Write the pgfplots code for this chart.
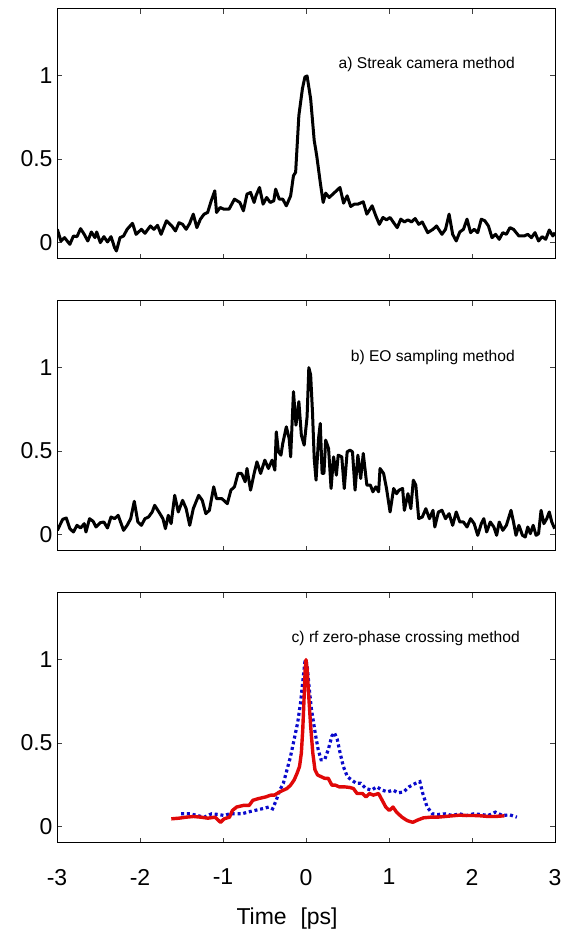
\documentclass[border=0pt]{standalone}
\usepackage{fontspec}
\setmainfont{Liberation Sans}
\usepackage{pgfplots}
\pgfplotsset{compat=1.18}
\definecolor{rfred}{HTML}{E00808}
\definecolor{rfblue}{HTML}{0A0ACC}

\pgfplotsset{
  panel/.style={
    scale only axis, width=249pt, height=125pt,
    xmin=-3, xmax=3, ymin=-0.1, ymax=1.4,
    xtick={-3,-2,-1,0,1,2,3}, ytick={0,0.5,1},
    yticklabels={0,0.5,1},
    tick align=inside, major tick length=2.5pt,
    tick style={black!75, line width=0.4pt},
    axis line style={line width=0.5pt},
    tick label style={font=\fontsize{11.5}{13}\selectfont},
    yticklabel style={xshift=1.3pt},
  },
  trace/.style={black, line width=1.5pt, line join=round},
}

\begin{document}
\begin{tikzpicture}

% a) streak camera
\begin{axis}[panel, at={(0pt,292pt)}, anchor=south west, xticklabels={}]
\addplot[trace] coordinates {
(-2.996,0.078) (-2.953,0.008) (-2.909,0.028) (-2.845,-0.012) (-2.802,0.038) (-2.759,0.034)
(-2.716,0.082) (-2.672,0.048) (-2.629,0.008) (-2.586,0.062) (-2.543,0.028) (-2.522,0.062)
(-2.478,-0.002) (-2.435,0.034) (-2.392,0.002) (-2.349,0.034) (-2.306,-0.032) (-2.284,-0.052)
(-2.241,0.028) (-2.198,0.038) (-2.155,0.078) (-2.091,0.114) (-2.047,0.048) (-1.983,0.078)
(-1.940,0.054) (-1.875,0.098) (-1.832,0.078) (-1.789,0.102) (-1.746,0.048) (-1.681,0.129)
(-1.616,0.098) (-1.573,0.068) (-1.530,0.118) (-1.487,0.108) (-1.444,0.078) (-1.401,0.114)
(-1.358,0.169) (-1.315,0.088) (-1.272,0.139) (-1.228,0.169) (-1.185,0.179) (-1.142,0.249)
(-1.099,0.309) (-1.078,0.179) (-1.034,0.209) (-0.991,0.199) (-0.927,0.199) (-0.862,0.259)
(-0.797,0.239) (-0.754,0.189) (-0.711,0.289) (-0.668,0.299) (-0.625,0.239) (-0.603,0.279)
(-0.560,0.329) (-0.517,0.229) (-0.474,0.269) (-0.431,0.239) (-0.388,0.249) (-0.366,0.319)
(-0.323,0.259) (-0.280,0.259) (-0.237,0.219) (-0.185,0.279) (-0.151,0.400) (-0.125,0.420)
(-0.086,0.761) (-0.043,0.922) (-0.013,0.992) (0.013,0.998) (0.056,0.861) (0.099,0.610)
(0.129,0.520) (0.172,0.359) (0.207,0.239) (0.237,0.295) (0.280,0.269) (0.323,0.289)
(0.409,0.329) (0.453,0.235) (0.496,0.279) (0.539,0.215) (0.582,0.229) (0.625,0.229)
(0.690,0.243) (0.733,0.169) (0.797,0.219) (0.841,0.159) (0.884,0.108) (0.927,0.149)
(0.970,0.135) (1.013,0.149) (1.056,0.118) (1.099,0.088) (1.142,0.139) (1.185,0.122)
(1.228,0.135) (1.272,0.122) (1.315,0.143) (1.358,0.108) (1.401,0.122) (1.466,0.058)
(1.530,0.078) (1.573,0.098) (1.638,0.048) (1.681,0.078) (1.724,0.169) (1.767,0.048)
(1.810,0.008) (1.853,0.062) (1.897,0.078) (1.940,0.139) (1.983,0.058) (2.026,0.078)
(2.069,0.058) (2.112,0.139) (2.155,0.129) (2.198,0.098) (2.241,0.028) (2.284,0.048)
(2.328,0.018) (2.371,0.058) (2.414,0.048) (2.457,0.088) (2.500,0.078) (2.565,0.038)
(2.629,0.038) (2.672,0.048) (2.716,0.028) (2.759,0.058) (2.802,0.008) (2.845,0.034)
(2.888,0.018) (2.931,0.074) (2.974,0.038) (3.000,0.058)
};
\node[anchor=east, font=\fontsize{7.8}{10}\selectfont] at (axis cs:2.6,1.07) {a) Streak camera method};
\end{axis}

% b) EO sampling
\begin{axis}[panel, at={(0pt,146pt)}, anchor=south west, xticklabels={}]
\addplot[trace] coordinates {
(-2.996,0.024) (-2.931,0.090) (-2.888,0.098) (-2.845,0.034) (-2.802,0.014) (-2.759,0.054)
(-2.716,0.038) (-2.672,0.064) (-2.651,0.014) (-2.608,0.094) (-2.565,0.078) (-2.530,0.044)
(-2.478,0.070) (-2.435,0.074) (-2.392,0.038) (-2.349,0.104) (-2.306,0.094) (-2.263,0.114)
(-2.198,0.024) (-2.155,0.054) (-2.112,0.094) (-2.069,0.198) (-2.026,0.074) (-1.983,0.054)
(-1.940,0.094) (-1.897,0.104) (-1.853,0.134) (-1.823,0.174) (-1.767,0.130) (-1.724,0.094)
(-1.694,0.034) (-1.659,0.114) (-1.625,0.064) (-1.582,0.234) (-1.539,0.134) (-1.487,0.204)
(-1.444,0.154) (-1.401,0.054) (-1.358,0.154) (-1.293,0.234) (-1.250,0.204) (-1.207,0.124)
(-1.164,0.144) (-1.112,0.285) (-1.078,0.214) (-1.013,0.214) (-0.948,0.184) (-0.905,0.265)
(-0.862,0.285) (-0.819,0.365) (-0.776,0.365) (-0.733,0.315) (-0.711,0.395) (-0.668,0.265)
(-0.625,0.365) (-0.591,0.435) (-0.547,0.365) (-0.496,0.445) (-0.453,0.395) (-0.409,0.445)
(-0.375,0.385) (-0.358,0.615) (-0.332,0.495) (-0.302,0.475) (-0.280,0.545) (-0.237,0.645)
(-0.203,0.575) (-0.185,0.465) (-0.151,0.856) (-0.121,0.655) (-0.086,0.796) (-0.056,0.595)
(-0.022,0.535) (0.013,0.705) (0.034,1.000) (0.056,0.956) (0.078,0.735) (0.099,0.455)
(0.121,0.325) (0.151,0.575) (0.172,0.665) (0.194,0.365) (0.216,0.365) (0.237,0.565)
(0.272,0.515) (0.302,0.275) (0.332,0.465) (0.366,0.355) (0.388,0.475) (0.431,0.465)
(0.461,0.275) (0.496,0.495) (0.530,0.505) (0.560,0.495) (0.591,0.265) (0.625,0.475)
(0.659,0.335) (0.690,0.485) (0.733,0.295) (0.776,0.295) (0.806,0.255) (0.841,0.285)
(0.875,0.255) (0.892,0.395) (0.935,0.365) (0.970,0.275) (1.013,0.134) (1.056,0.275)
(1.091,0.244) (1.121,0.265) (1.164,0.275) (1.185,0.144) (1.228,0.244) (1.263,0.154)
(1.293,0.325) (1.323,0.295) (1.358,0.094) (1.401,0.104) (1.444,0.154) (1.487,0.094)
(1.530,0.144) (1.552,0.044) (1.595,0.134) (1.638,0.144) (1.681,0.094) (1.724,0.124)
(1.767,0.054) (1.810,0.134) (1.853,0.074) (1.897,0.074) (1.940,0.044) (1.983,0.094)
(2.026,0.064) (2.069,-0.006) (2.112,0.064) (2.142,0.094) (2.177,0.014) (2.220,0.074)
(2.263,0.044) (2.297,-0.006) (2.328,0.074) (2.371,0.024) (2.414,0.054) (2.470,0.144)
(2.500,0.074) (2.530,-0.006) (2.565,0.054) (2.608,-0.006) (2.642,-0.016) (2.672,0.044)
(2.703,0.004) (2.737,0.054) (2.772,-0.006) (2.802,0.004) (2.832,0.144) (2.866,0.064)
(2.901,0.094) (2.931,0.134) (2.961,0.074) (2.996,0.034)
};
\node[anchor=east, font=\fontsize{7.8}{10}\selectfont] at (axis cs:2.6,1.06) {b) EO sampling method};
\end{axis}

% c) rf zero-phase crossing
\begin{axis}[panel, at={(0pt,0pt)}, anchor=south west,
  xticklabels={-3,-2,-1,0,1,2,3},
  xticklabel style={yshift=-9.5pt},
  xlabel={Time\hspace{0.6em}[ps]},
  xlabel style={font=\fontsize{11.5}{13}\selectfont, at={(axis description cs:0.462,0)}, anchor=center, yshift=-38pt},
]
\addplot[rfblue, line width=1.6pt, dash pattern=on 1.5pt off 1.4pt] coordinates {
(-1.506,0.075) (-1.398,0.075) (-1.312,0.065) (-1.225,0.055) (-1.139,0.075) (-1.052,0.071)
(-0.987,0.065) (-0.922,0.075) (-0.835,0.075) (-0.771,0.075) (-0.706,0.085) (-0.619,0.095)
(-0.532,0.105) (-0.446,0.116) (-0.403,0.105) (-0.359,0.156) (-0.316,0.217) (-0.273,0.258)
(-0.229,0.339) (-0.186,0.420) (-0.143,0.521) (-0.100,0.623) (-0.065,0.744) (-0.035,0.886)
(-0.013,0.988) (0.000,1.000) (0.017,0.947) (0.039,0.826) (0.065,0.704) (0.091,0.623)
(0.117,0.542) (0.147,0.460) (0.182,0.400) (0.225,0.400) (0.268,0.460) (0.312,0.542)
(0.342,0.562) (0.377,0.521) (0.411,0.440) (0.450,0.359) (0.498,0.298) (0.550,0.278)
(0.606,0.258) (0.658,0.258) (0.723,0.227) (0.788,0.217) (0.853,0.237) (0.918,0.217)
(0.983,0.207) (1.048,0.217) (1.113,0.201) (1.177,0.207) (1.242,0.237) (1.320,0.258)
(1.372,0.268) (1.407,0.197) (1.459,0.116) (1.524,0.075) (1.589,0.071) (1.675,0.075)
(1.762,0.065) (1.848,0.075) (1.935,0.065) (2.022,0.075) (2.108,0.071) (2.195,0.065)
(2.281,0.085) (2.368,0.065) (2.455,0.069) (2.541,0.055)
};
\addplot[rfred, line width=1.7pt, line join=round] coordinates {
(-1.623,0.045) (-1.528,0.049) (-1.442,0.055) (-1.355,0.059) (-1.268,0.055) (-1.182,0.049)
(-1.095,0.055) (-1.030,0.024) (-0.987,0.045) (-0.922,0.055) (-0.887,0.095) (-0.835,0.116)
(-0.749,0.126) (-0.684,0.126) (-0.641,0.156) (-0.576,0.166) (-0.489,0.176) (-0.424,0.187)
(-0.381,0.187) (-0.316,0.207) (-0.273,0.217) (-0.229,0.227) (-0.186,0.247) (-0.143,0.278)
(-0.108,0.318) (-0.078,0.359) (-0.056,0.440) (-0.039,0.582) (-0.022,0.785) (-0.009,0.947)
(0.000,1.000) (0.013,0.947) (0.030,0.805) (0.056,0.602) (0.082,0.440) (0.108,0.339)
(0.139,0.308) (0.182,0.298) (0.225,0.288) (0.268,0.288) (0.312,0.247) (0.355,0.247)
(0.398,0.237) (0.463,0.237) (0.528,0.233) (0.571,0.227) (0.615,0.197) (0.680,0.197)
(0.723,0.176) (0.766,0.197) (0.810,0.187) (0.874,0.197) (0.918,0.156) (0.961,0.116)
(1.004,0.095) (1.048,0.116) (1.091,0.085) (1.156,0.055) (1.221,0.034) (1.286,0.024)
(1.351,0.039) (1.416,0.051) (1.502,0.055) (1.589,0.055) (1.675,0.059) (1.762,0.063)
(1.848,0.067) (1.935,0.065) (2.022,0.065) (2.108,0.063) (2.195,0.059) (2.281,0.059)
(2.390,0.063)
};
\node[anchor=east, font=\fontsize{7.8}{10}\selectfont] at (axis cs:2.66,1.13) {c) rf zero-phase crossing method};
\end{axis}

\pgfresetboundingbox
\path[use as bounding box] (-28.5pt,-43pt) rectangle (252pt,421.5pt);
\end{tikzpicture}
\end{document}
